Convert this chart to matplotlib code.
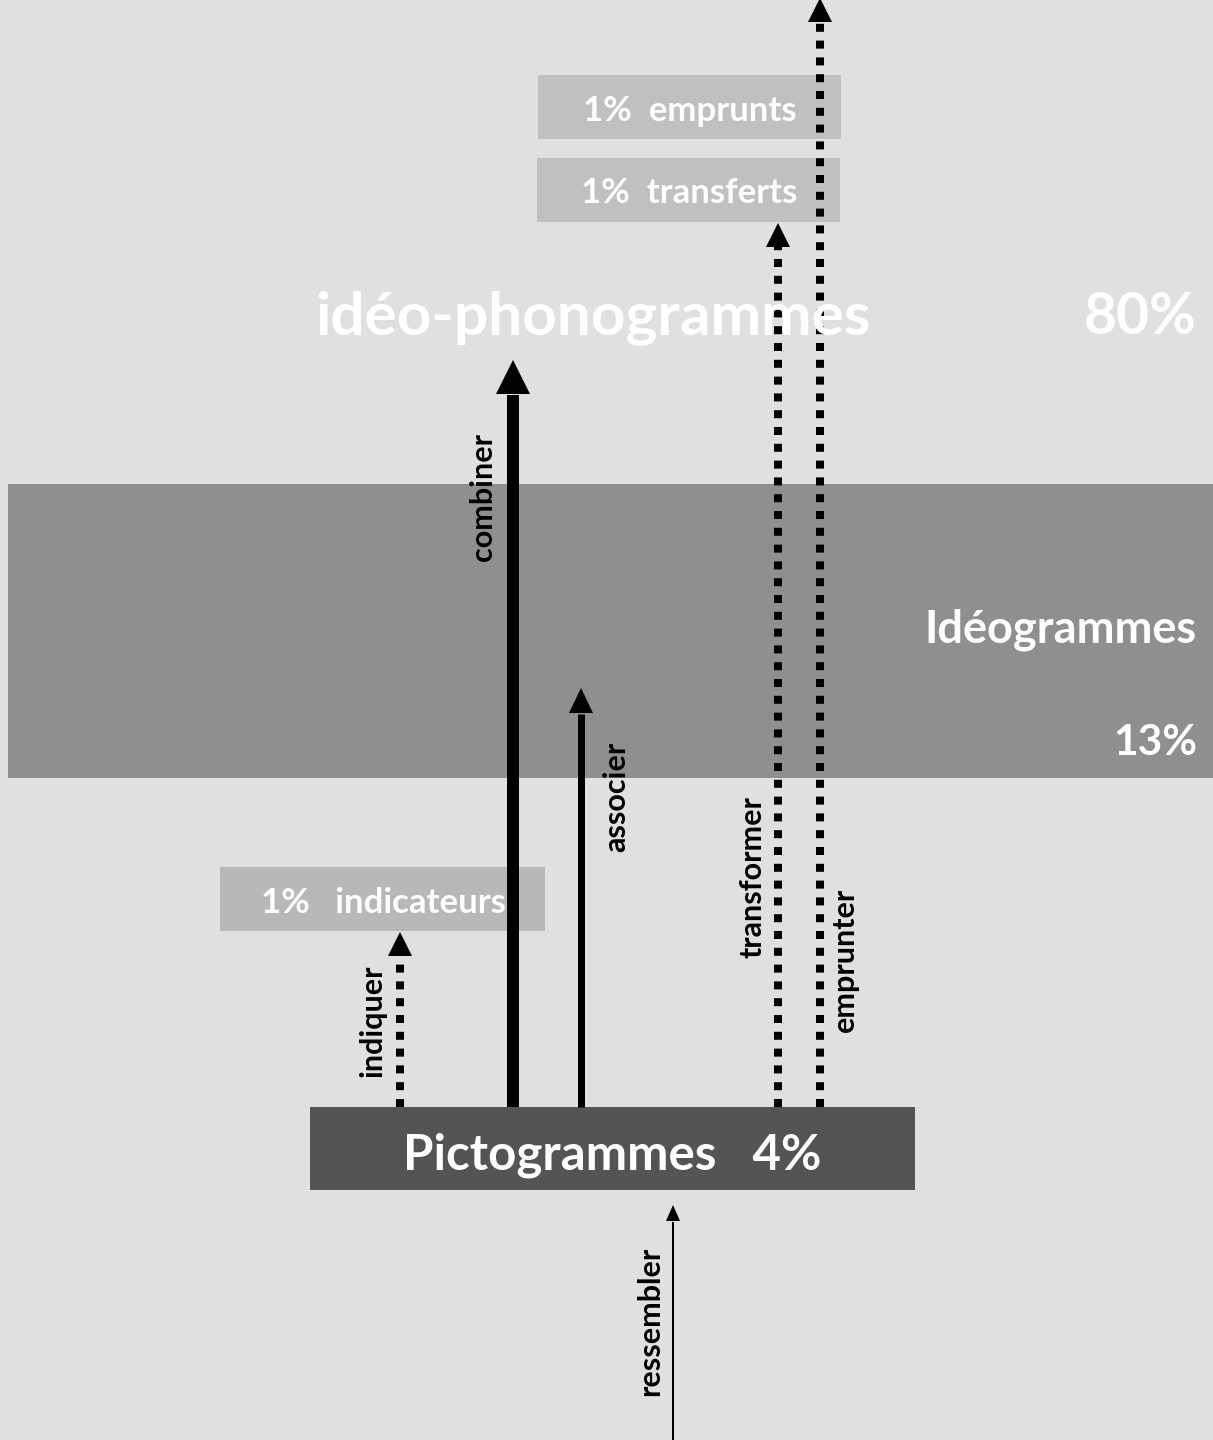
import matplotlib
matplotlib.use("Agg")
import matplotlib.pyplot as plt
from matplotlib.patches import Rectangle

# ---- data ----
categories = ["Pictogrammes", "Idéogrammes", "idéo-phonogrammes", "indicateurs", "transferts", "emprunts"]
percentages = [4, 13, 80, 1, 1, 1]
processes = ["ressembler", "indiquer", "combiner", "associer", "transformer", "emprunter"]

FONT = ["Lato", "DejaVu Sans"]
plt.rcParams["font.family"] = FONT

W, H = 1213, 1440
fig = plt.figure(figsize=(W / 100, H / 100), dpi=100)
fig.patch.set_facecolor("#e0e0e0")
ax = fig.add_axes([0, 0, 1, 1])
ax.set_xlim(0, W)
ax.set_ylim(H, 0)
ax.axis("off")
ax.set_facecolor("#e0e0e0")

pt = 72 / 100  # px -> points

# boxes (x0, y0, x1, y1, color)
boxes = {
    "Idéogrammes": (8, 484, 1213, 778, "#8f8f8f"),
    "Pictogrammes": (310, 1107, 915, 1190, "#545454"),
    "indicateurs": (220, 867, 545, 931, "#b8b8b8"),
    "emprunts": (538, 75, 841, 139, "#c0c0c0"),
    "transferts": (537, 158, 840, 222, "#c0c0c0"),
}
for name, (x0, y0, x1, y1, c) in boxes.items():
    ax.add_patch(Rectangle((x0, y0), x1 - x0, y1 - y0, facecolor=c, edgecolor="none", zorder=1))

pct = dict(zip(categories, percentages))

# arrows: name -> (x, y_start, y_tip, line_px, head_w, head_l, dotted)
arrows = {
    "ressembler": (673, 1440, 1205, 2, 14, 16, False),
    "indiquer": (400, 1107, 932, 8, 24, 24, True),
    "combiner": (513, 1107, 360, 12, 34, 34, False),
    "associer": (581, 1107, 688, 7, 24, 25, False),
    "transformer": (778, 1107, 223, 8, 24, 24, True),
    "emprunter": (820, 1107, -2, 8, 24, 24, True),
}
for name in processes:
    x, ys, yt, lw, hw, hl, dotted = arrows[name]
    ybase = yt + hl
    if dotted:
        ax.plot([x, x], [ys, ybase - 1], color="black", lw=lw * pt,
                dashes=(1.0, 1.1), solid_capstyle="butt", dash_capstyle="butt", zorder=3)
    else:
        ax.plot([x, x], [ys, ybase + 1], color="black", lw=lw * pt,
                solid_capstyle="butt", zorder=3)
    ax.fill([x - hw / 2, x + hw / 2, x], [ybase, ybase, yt], color="black", lw=0, zorder=3)

# texts
white = dict(color="white", fontweight="bold", zorder=4)
ax.text(593, 318, categories[2], ha="center", va="center", fontsize=43.5, **white)
ax.text(1197, 318, f"{pct['idéo-phonogrammes']}%", ha="right", va="center", fontsize=41, **white)
ax.text(1197, 630, categories[1], ha="right", va="center", fontsize=32.5, **white)
ax.text(1197, 743, f"{pct['Idéogrammes']}%", ha="right", va="center", fontsize=30.5, **white)
ax.text(612, 1155, f"{categories[0]}   {pct['Pictogrammes']}%", ha="center", va="center", fontsize=35.5, **white)
ax.text(690, 111, f"{pct['emprunts']}%  {categories[5]}", ha="center", va="center", fontsize=25, **white)
ax.text(689, 193, f"{pct['transferts']}%  {categories[4]}", ha="center", va="center", fontsize=25, **white)
ax.text(383, 903, f"{pct['indicateurs']}%   {categories[3]}", ha="center", va="center", fontsize=25, **white)

# rotated process labels
labpos = {
    "combiner": (483, 497),
    "associer": (616, 797),
    "indiquer": (372, 1021),
    "transformer": (752, 877),
    "emprunter": (845, 960),
    "ressembler": (650, 1321),
}
for name in processes:
    x, y = labpos[name]
    ax.text(x, y, name, rotation=90, ha="center", va="center", fontsize=22,
            fontweight="bold", color="black", zorder=4)

fig.savefig("out.png", dpi=100, facecolor=fig.get_facecolor())
